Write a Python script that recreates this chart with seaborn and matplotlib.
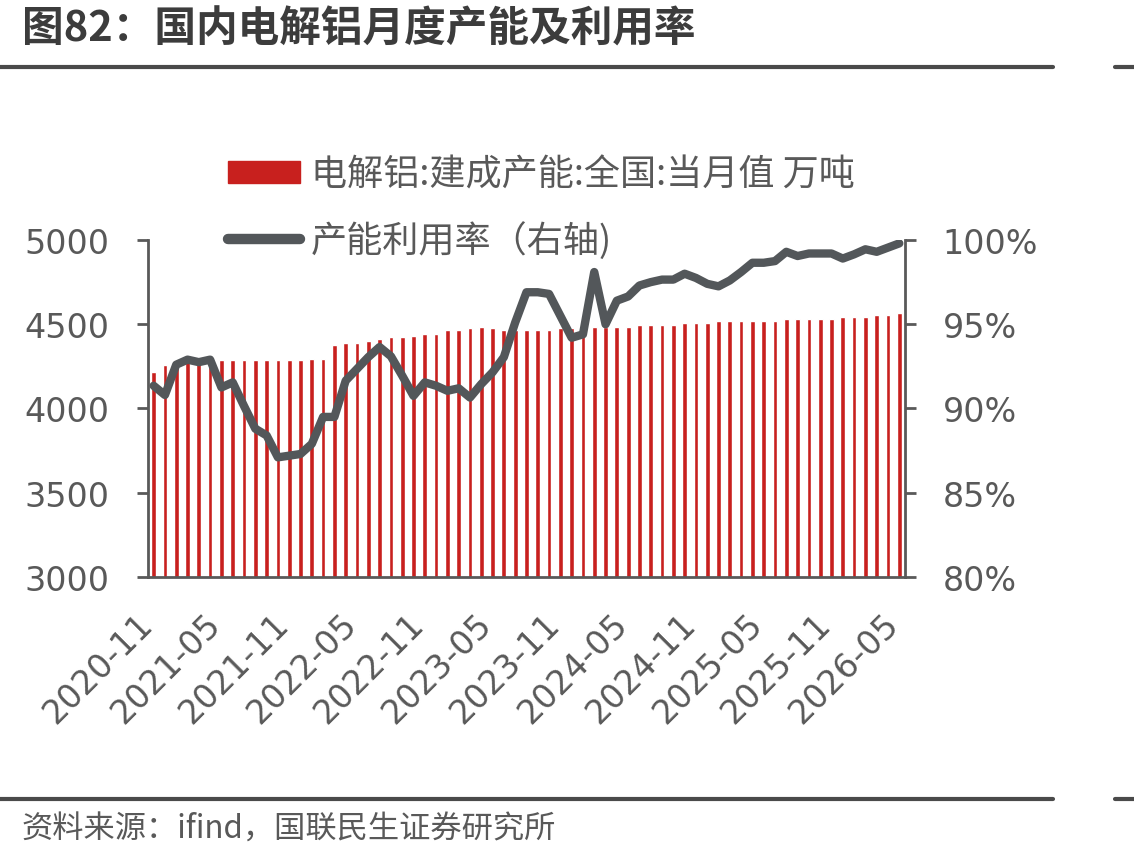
# 国内电解铝月度产能及利用率 (图82)
# bars: built capacity (万吨, left axis), line: utilisation rate (%, right axis)
import numpy as np
import pandas as pd
import seaborn as sns
import matplotlib.pyplot as plt
import matplotlib.transforms as mtransforms
from matplotlib.lines import Line2D
from matplotlib.patches import Patch
from matplotlib.ticker import FuncFormatter

# monthly categories, 2020-11 .. 2026-05
months = list(pd.date_range('2020-11-01', periods=67, freq='MS').strftime('%Y-%m'))

# 电解铝:建成产能:全国:当月值 (万吨)
capacity = [4215, 4260, 4275, 4285, 4285, 4285, 4285, 4285, 4285, 4285,
            4285, 4285, 4285, 4285, 4296, 4296, 4375, 4387, 4387, 4399,
            4410, 4423, 4423, 4432, 4442, 4442, 4466, 4466, 4476, 4486,
            4476, 4466, 4466, 4466, 4466, 4466, 4476, 4476, 4476, 4486,
            4486, 4486, 4486, 4497, 4497, 4497, 4497, 4509, 4509, 4509,
            4521, 4521, 4521, 4521, 4521, 4521, 4531, 4531, 4531, 4531,
            4531, 4543, 4543, 4543, 4555, 4555, 4567]

# 产能利用率 (%)
utilisation = [91.35, 90.8, 92.6, 92.9, 92.75, 92.9, 91.25, 91.55, 90.15, 88.8,
               88.4, 87.1, 87.2, 87.3, 87.9, 89.5, 89.5, 91.65, 92.35, 93.05,
               93.65, 93.1, 91.95, 90.75, 91.55, 91.35, 91.05, 91.2, 90.65, 91.45,
               92.15, 93.05, 95.1, 96.9, 96.9, 96.8, 95.5, 94.2, 94.4, 98.1,
               95.0, 96.4, 96.65, 97.3, 97.5, 97.65, 97.65, 98.0, 97.75, 97.4,
               97.25, 97.6, 98.1, 98.65, 98.65, 98.75, 99.3, 99.05, 99.2, 99.2,
               99.2, 98.9, 99.15, 99.45, 99.3, 99.55, 99.8]

bar_label = '电解铝:建成产能:全国:当月值 万吨'
line_label = '产能利用率（右轴)'
title = '图82：国内电解铝月度产能及利用率'
source = '资料来源：ifind，国联民生证券研究所'

red = '#C8201E'
grey = '#53575A'
text_grey = '#595959'

sns.set_theme(style='white')
plt.rcParams['font.family'] = ['DejaVu Sans', 'Noto Sans CJK SC']

fig = plt.figure(figsize=(11.34, 8.62), dpi=100)
ax = fig.add_axes([0.1305, 0.3295, 0.798 - 0.1305, 0.7204 - 0.3295])

sns.barplot(x=months, y=capacity, color=red, saturation=1, width=0.42, ax=ax)
ax.set_ylim(3000, 5000)
ax.set_yticks([3000, 3500, 4000, 4500, 5000])
ax.set_xlim(-0.5, len(months) - 0.5)
tick_idx = list(range(0, len(months), 6))
ax.set_xticks([i - 0.5 for i in tick_idx])
ax.set_xticklabels([months[i] for i in tick_idx], rotation=45, ha='right',
                   va='center', rotation_mode='anchor')
shift = mtransforms.ScaledTranslation(6 / 100, 0, fig.dpi_scale_trans)
for lbl in ax.get_xticklabels():
    lbl.set_transform(lbl.get_transform() + shift)

ax2 = ax.twinx()
sns.lineplot(x=np.arange(len(months)), y=utilisation, color=grey, linewidth=6,
             ax=ax2, solid_joinstyle='round', solid_capstyle='round')
ax2.set_ylim(80, 100)
ax2.set_yticks([80, 85, 90, 95, 100])
ax2.yaxis.set_major_formatter(FuncFormatter(lambda v, p: f'{v:.0f}%'))
ax2.set_xlim(-0.5, len(months) - 0.5)

for a in (ax, ax2):
    a.set_xlabel('')
    a.set_ylabel('')
    a.spines['top'].set_visible(False)
    for s in ('left', 'right', 'bottom'):
        a.spines[s].set_color(text_grey)
        a.spines[s].set_linewidth(2.0)
    a.tick_params(colors=text_grey, labelsize=24, length=8, width=2.0,
                  direction='out')
ax.spines['right'].set_visible(False)
ax2.spines['left'].set_visible(False)
ax2.spines['bottom'].set_visible(False)
ax.tick_params(axis='x', pad=22, labelsize=24)
ax.tick_params(axis='y', pad=20)
ax2.tick_params(axis='y', pad=19)

handles = [Patch(facecolor=red, edgecolor=red),
           Line2D([0], [0], color=grey, linewidth=7.5, solid_capstyle='round')]
fig.legend(handles, [bar_label, line_label], loc='upper left',
           bbox_to_anchor=(0.201, 0.817), frameon=False,
           handlelength=2.0, handleheight=0.55, handletextpad=0.3,
           labelspacing=0.78, borderpad=0, borderaxespad=0,
           labelcolor=text_grey, prop={'family': ['Noto Sans CJK SC'], 'size': 26})

fig.text(0.019, 0.99, title, fontsize=30, fontweight='bold', color='#3C3C3C',
         va='top', ha='left', family=['Noto Sans CJK SC'])
fig.text(0.019, 0.037, source, fontsize=22.5, color=text_grey, va='center',
         ha='left', family=['Noto Sans CJK SC'])

for yy in (1 - 68 / 862, 1 - 800 / 862):
    fig.add_artist(Line2D([0, 1053 / 1134], [yy, yy], color='#4A4A4A',
                          linewidth=3, transform=fig.transFigure))
    fig.add_artist(Line2D([1115 / 1134, 1], [yy, yy], color='#4A4A4A',
                          linewidth=3, transform=fig.transFigure))

fig.savefig('out.png', dpi=100)
